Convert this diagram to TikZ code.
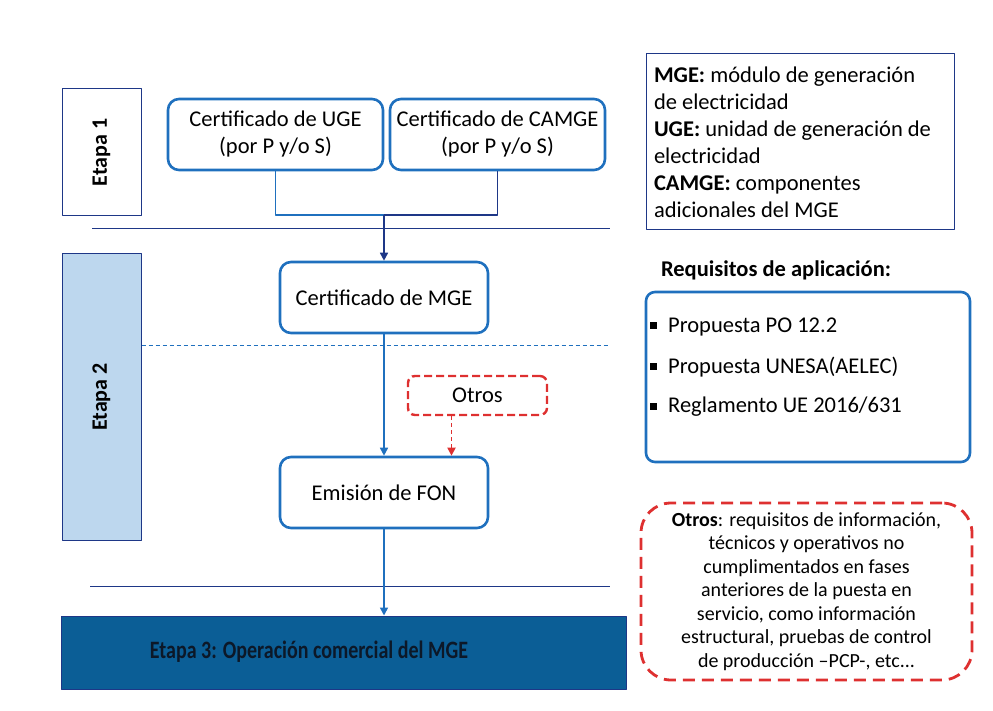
\documentclass[tikz,border=0pt]{standalone}
\usepackage{fontspec}
\setmainfont{Carlito}
\usetikzlibrary{arrows.meta}
\definecolor{boxblue}{RGB}{31,112,190}
\definecolor{navy}{RGB}{30,55,135}
\definecolor{paleblue}{RGB}{189,215,238}
\definecolor{deepblue}{RGB}{11,94,150}
\definecolor{darktext}{RGB}{12,24,40}
\definecolor{otrosred}{RGB}{222,48,48}
\newcommand{\sqbullet}{\raisebox{3pt}{\rule{7pt}{7pt}}\hspace{11pt}}

\begin{document}
\begin{tikzpicture}[x=1pt,y=-1pt,line join=round,
  >={Triangle[length=8pt,width=8pt]},
  stagebox/.style={draw=navy,line width=1pt,rotate=90,inner sep=0pt,
    minimum height=79pt,font=\bfseries\fontsize{22}{26}\selectfont},
  certbox/.style={draw=boxblue,line width=2.6pt,rounded corners=11pt,
    align=center,inner sep=0pt,font=\fontsize{22.5}{27}\selectfont},
  flow/.style={boxblue,line width=1.6pt},
  body/.style={font=\fontsize{22.5}{27}\selectfont}]
  \useasboundingbox (0,0) rectangle (993,711);

  % etapas
  \node[stagebox,minimum width=127pt] (etapaI) at (101.5,152.5) {Etapa 1};
  \node[stagebox,fill=paleblue,minimum width=286pt] (etapaII) at (101.5,397) {Etapa 2};
  \node[draw=navy,line width=1pt,fill=deepblue,minimum width=565pt,minimum height=73pt]
    (etapaIII) at (343.5,652.5) {};
  \node[text=darktext,font=\bfseries\fontsize{25}{29}\selectfont] (etapaIIIlabel)
    at (309,652) {\scalebox{0.8}[1]{Etapa 3: Operación comercial del MGE}};

  % separadores
  \draw[navy,line width=1pt] (92,229) -- (610,229);
  \draw[boxblue,line width=1pt,dash pattern=on 4pt off 3pt] (etapaII.south |- 0,345) -- (610,345);
  \draw[navy,line width=1pt] (90,586) -- (610,586);

  % cajas
  \node[certbox,minimum width=215pt,minimum height=71pt] (uge) at (275.5,134.5)
    {Certificado de UGE\\(por P y/o S)};
  \node[certbox,minimum width=215pt,minimum height=71pt] (camge) at (497.5,134.5)
    {Certificado de CAMGE\\(por P y/o S)};
  \node[certbox,minimum width=208pt,minimum height=71pt] (mge) at (384,297.5)
    {Certificado de MGE};
  \node[certbox,minimum width=208pt,minimum height=71pt] (fon) at (384,492.5)
    {Emisión de FON};
  \node[draw=otrosred,line width=2.4pt,dash pattern=on 8pt off 4pt,rounded corners=7pt,
    minimum width=139pt,minimum height=39pt,body] (otros) at (477.5,395.5) {Otros};

  % conexiones
  \coordinate (join) at (384,215);
  \draw[flow] (uge.south) |- (join);
  \draw[flow,navy] (camge.south) |- (join);
  \draw[flow,navy,->] (join) -- (mge.north);
  \draw[flow,->] (mge.south) -- (fon.north);
  \draw[otrosred,line width=1.8pt,dash pattern=on 4pt off 3pt,->]
    ([xshift=-26pt]otros.south) -- ([xshift=-26pt]otros.south |- fon.north);
  \draw[flow,->] (fon.south) -- (fon.south |- etapaIII.north);

  % leyenda
  \node[draw=navy,line width=1pt,text width=292pt,inner xsep=8pt,minimum height=176pt,
    align=flush left,body] (legend) at (800,142)
    {\textbf{MGE:} módulo de generación\\de electricidad\\\textbf{UGE:} unidad de generación de\\
     electricidad\\\textbf{CAMGE:} componentes\\adicionales del MGE};

  % requisitos
  \node[body,font=\bfseries\fontsize{22.5}{27}\selectfont] (reqtitle) at (776,270)
    {Requisitos de aplicación:};
  \node[draw=boxblue,line width=2.6pt,rounded corners=9pt,minimum width=324pt,
    minimum height=170pt] (reqbox) at (808,377) {};
  \node[body,anchor=west,inner sep=0pt] (reqa) at (650,327) {\sqbullet Propuesta PO 12.2};
  \node[body,anchor=west,inner sep=0pt] (reqb) at (650,367) {\sqbullet Propuesta UNESA(AELEC)};
  \node[body,anchor=west,inner sep=0pt] (reqc) at (650,407) {\sqbullet Reglamento UE 2016/631};

  % nota otros
  \node[draw=otrosred,line width=2.8pt,dash pattern=on 12pt off 7pt,rounded corners=30pt,
    minimum width=331pt,minimum height=177pt,align=center,
    font=\fontsize{20}{23.5}\selectfont] (otrosnote) at (806.5,591.5)
    {\textbf{Otros}: requisitos de información,\\técnicos y operativos no\\
     cumplimentados en fases\\anteriores de la puesta en\\servicio, como información\\
     estructural, pruebas de control\\de producción –PCP-, etc...};
\end{tikzpicture}
\end{document}
